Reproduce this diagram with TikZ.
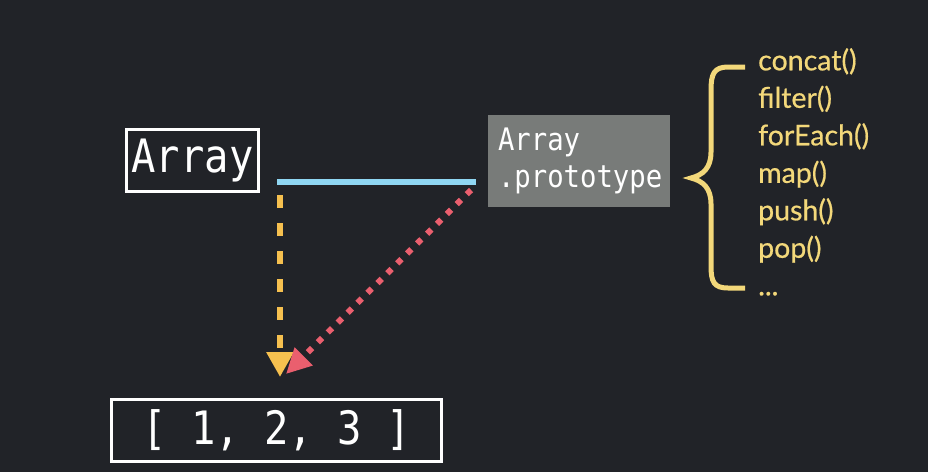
\documentclass[tikz,border=0pt]{standalone}
\usepackage{fontspec}
\usetikzlibrary{arrows.meta}
\newfontfamily\codefont[FakeStretch=0.88]{DejaVu Sans Mono}
\newfontfamily\listfont[FakeBold=0.6]{Lato}
\definecolor{bgdark}{RGB}{33,35,40}
\definecolor{protogray}{RGB}{120,123,121}
\definecolor{linkblue}{RGB}{143,214,242}
\definecolor{newyellow}{RGB}{246,192,79}
\definecolor{protored}{RGB}{234,95,110}
\definecolor{methodyellow}{RGB}{243,216,122}
\begin{document}
\begin{tikzpicture}[x=1pt,y=-1pt,
    objbox/.style={draw=white, line width=3pt, text=white, inner sep=0pt,
        font=\codefont\fontsize{46}{50}\selectfont},
    protobox/.style={fill=protogray, text=white, inner sep=0pt, align=left,
        font=\codefont\fontsize{31}{37}\selectfont},
    newarrow/.style={draw=newyellow, line width=6pt, dash pattern=on 13pt off 15pt,
        -{Triangle[width=26pt,length=25pt,fill=newyellow]}},
    protoarrow/.style={draw=protored, line width=6pt, dash pattern=on 6pt off 8pt,
        -{Triangle[width=24pt,length=25pt,fill=protored]}}]
    \fill [bgdark] (0,0) rectangle (928,472);
    \node [objbox, minimum width=132pt, minimum height=62pt] (arrayObj) at (192.5,160.5) {Array};
    \node [protobox, minimum width=182pt, minimum height=92pt, text width=162pt] (protoObj) at (579,161) {Array\\.prototype};
    \node [objbox, minimum width=330pt, minimum height=62pt] (listObj) at (276.5,430.5) {[ 1, 2, 3 ]};
    \node [anchor=north west, align=left, text=methodyellow, inner sep=0pt,
        font=\listfont\fontsize{28.5}{37.5}\selectfont] (methods) at (758,48)
        {concat()\\filter()\\forEach()\\map()\\push()\\pop()\\...};
    \coordinate (lnkL) at (277,182);
    \coordinate (lnkR) at (476,182);
    \coordinate (newFrom) at (280,195);
    \coordinate (newTo) at (280,377);
    \coordinate (protoFrom) at (471,190);
    \coordinate (protoTo) at (286,374);
    \draw [linkblue, line width=6pt] (lnkL) -- (lnkR);
    \draw [newarrow] (newFrom) -- (newTo);
    \draw [protoarrow] (protoFrom) -- (protoTo);
    % brace next to the method list
    \draw [methodyellow, line width=5pt] (745,67) -- (728,67)
        .. controls (714,67) and (711,74) .. (711,90) -- (711,152)
        .. controls (711,168) and (703,175) .. (691,178)
        .. controls (703,181) and (711,188) .. (711,204) -- (711,266)
        .. controls (711,282) and (714,288) .. (728,288) -- (745,288);
\end{tikzpicture}
\end{document}
